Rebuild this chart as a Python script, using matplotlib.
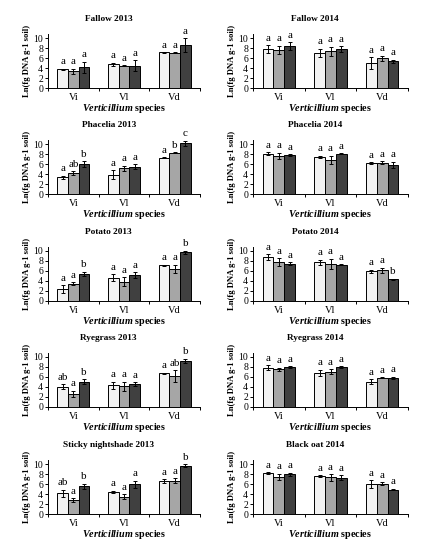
import matplotlib
matplotlib.use("Agg")
import matplotlib.pyplot as plt
import numpy as np

plt.rcParams["font.family"] = ["Liberation Serif", "DejaVu Serif"]
plt.rcParams["mathtext.fontset"] = "custom"
plt.rcParams["mathtext.it"] = "Liberation Serif:style=italic:weight=bold"

species = ["Vi", "Vl", "Vd"]
bar_colors = ["#f2f2f2", "#a6a6a6", "#404040"]

# means per species (rows) for the three treatments (columns), with std errors
fallow13 = [[3.8, 3.4, 4.2], [4.8, 4.45, 4.5], [7.15, 7.1, 8.6]]
fallow13_err = [[0.1, 0.5, 1.1], [0.3, 0.1, 1.1], [0.1, 0.15, 1.4]]
fallow13_let = [["a", "a", "a"], ["a", "a", "a"], ["a", "a", "a"]]

fallow14 = [[7.8, 7.7, 8.4], [7.0, 7.35, 7.75], [5.0, 6.0, 5.4]]
fallow14_err = [[0.8, 0.8, 0.75], [0.85, 0.9, 0.6], [1.15, 0.5, 0.3]]
fallow14_let = [["a", "a", "a"], ["a", "a", "a"], ["a", "a", "a"]]

phacelia13 = [[3.4, 4.2, 6.0], [3.9, 5.2, 5.5], [7.3, 8.3, 10.2]]
phacelia13_err = [[0.3, 0.4, 0.6], [0.9, 0.5, 0.5], [0.1, 0.1, 0.5]]
phacelia13_let = [["a", "ab", "b"], ["a", "a", "a"], ["a", "b", "c"]]

phacelia14 = [[8.1, 7.7, 7.8], [7.5, 6.9, 8.1], [6.2, 6.3, 5.9]]
phacelia14_err = [[0.3, 0.6, 0.2], [0.2, 0.8, 0.05], [0.2, 0.3, 0.6]]
phacelia14_let = [["a", "a", "a"], ["a", "a", "a"], ["a", "a", "a"]]

potato13 = [[2.4, 3.5, 5.5], [4.7, 3.9, 5.2], [7.15, 6.5, 9.7]]
potato13_err = [[0.8, 0.3, 0.4], [0.7, 0.9, 0.6], [0.1, 0.8, 0.35]]
potato13_let = [["a", "a", "b"], ["a", "a", "a"], ["a", "a", "b"]]

potato14 = [[8.8, 7.8, 7.5], [7.8, 7.5, 7.3], [6.0, 6.2, 4.35]]
potato14_err = [[0.6, 0.8, 0.3], [0.5, 1.0, 0.1], [0.3, 0.5, 0.15]]
potato14_let = [["a", "a", "a"], ["a", "a", "a"], ["a", "a", "b"]]

ryegrass13 = [[4.05, 2.7, 5.1], [4.4, 4.2, 4.6], [6.75, 6.2, 9.3]]
ryegrass13_err = [[0.5, 0.6, 0.5], [0.7, 0.9, 0.4], [0.15, 1.2, 0.4]]
ryegrass13_let = [["ab", "a", "b"], ["a", "a", "a"], ["a", "ab", "b"]]

ryegrass14 = [[7.9, 7.6, 8.0], [6.9, 7.1, 8.0], [5.1, 5.9, 5.9]]
ryegrass14_err = [[0.45, 0.3, 0.2], [0.6, 0.5, 0.2], [0.5, 0.1, 0.2]]
ryegrass14_let = [["a", "a", "a"], ["a", "a", "a"], ["a", "a", "a"]]

sticky13 = [[4.2, 2.75, 5.6], [4.4, 3.5, 5.95], [6.65, 6.65, 9.65]]
sticky13_err = [[0.7, 0.4, 0.5], [0.25, 0.5, 0.7], [0.35, 0.5, 0.3]]
sticky13_let = [["ab", "a", "b"], ["a", "a", "a"], ["a", "a", "b"]]

blackoat14 = [[8.25, 7.5, 8.0], [7.65, 7.35, 7.3], [6.0, 6.1, 4.9]]
blackoat14_err = [[0.2, 0.6, 0.3], [0.15, 0.7, 0.5], [0.8, 0.3, 0.15]]
blackoat14_let = [["a", "a", "a"], ["a", "a", "a"], ["a", "a", "a"]]

panels = [
    ("Fallow 2013", fallow13, fallow13_err, fallow13_let),
    ("Fallow 2014", fallow14, fallow14_err, fallow14_let),
    ("Phacelia 2013", phacelia13, phacelia13_err, phacelia13_let),
    ("Phacelia 2014", phacelia14, phacelia14_err, phacelia14_let),
    ("Potato 2013", potato13, potato13_err, potato13_let),
    ("Potato 2014", potato14, potato14_err, potato14_let),
    ("Ryegrass 2013", ryegrass13, ryegrass13_err, ryegrass13_let),
    ("Ryegrass 2014", ryegrass14, ryegrass14_err, ryegrass14_let),
    ("Sticky nightshade 2013", sticky13, sticky13_err, sticky13_let),
    ("Black oat 2014", blackoat14, blackoat14_err, blackoat14_let),
]

W, H = 423, 550
fig = plt.figure(figsize=(W / 100, H / 100), dpi=100)

row_bottom_px = [88, 194, 301, 407, 514]
col_left_px = [48, 253]
col_width_px = [152, 155]
ymax = 10.8
ax_h_px = 5 * ymax
bw = 0.21
x = np.arange(len(species))

for i, (title, means, errs, lets) in enumerate(panels):
    r, c = divmod(i, 2)
    ax = fig.add_axes([col_left_px[c] / W, (H - row_bottom_px[r]) / H,
                       col_width_px[c] / W, ax_h_px / H])
    m = np.array(means)
    e = np.array(errs)
    for j in range(3):
        xs = x + (j - 1) * bw
        ax.bar(xs, m[:, j], bw, color=bar_colors[j], edgecolor="black", linewidth=0.7, zorder=2)
        ax.errorbar(xs, m[:, j], yerr=e[:, j], fmt="none", ecolor="black",
                    elinewidth=0.7, capsize=1.6, capthick=0.7, zorder=3)
        for k in range(3):
            ax.text(xs[k], m[k, j] + e[k, j] + 0.45, lets[k][j], ha="center", va="bottom",
                    fontsize=8)
    ax.set_xlim(-0.5, 2.5)
    ax.set_ylim(0, ymax)
    ax.set_yticks([0, 2, 4, 6, 8, 10])
    ax.set_xticks(x)
    ax.set_xticklabels(species)
    ax.set_xticks([-0.5, 0.5, 1.5, 2.5], minor=True)
    ax.tick_params(axis="x", which="major", length=0, labelsize=7.5, pad=3.5)
    ax.tick_params(axis="x", which="minor", length=2.5, width=0.7, direction="out")
    ax.tick_params(axis="y", length=2, width=0.7, labelsize=7, pad=1.5)
    for s in ["top", "right"]:
        ax.spines[s].set_visible(False)
    for s in ["left", "bottom"]:
        ax.spines[s].set_linewidth(0.7)
    ax.text(0.4, 1.0 + 15 / ax_h_px, title, transform=ax.transAxes, ha="center",
            va="center", fontsize=6.7, fontweight="bold")
    ax.set_xlabel(r"$\mathit{Verticillium}$ species", fontsize=7.3, fontweight="bold", labelpad=0)
    ax.set_ylabel("Ln(fg DNA g-1 soil)", fontsize=6.2, fontweight="bold", labelpad=1.5)

fig.savefig("out.png", dpi=100)
